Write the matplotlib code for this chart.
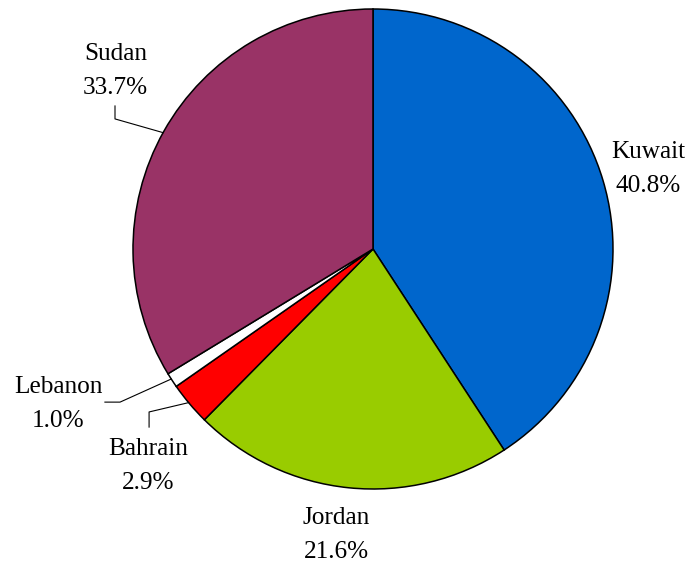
import matplotlib
matplotlib.use('Agg')
import matplotlib.pyplot as plt
import numpy as np

# data, clockwise from 12 o'clock
countries = ['Kuwait', 'Jordan', 'Bahrain', 'Lebanon', 'Sudan']
shares = [40.8, 21.6, 2.9, 1.0, 33.7]
colors = ['#0066CC', '#99CC00', '#FF0000', '#FFFFFF', '#993366']

# label anchor: centre x, last-line baseline y (pie radius = 1)
label_pos = [(1.146, 0.239), (-0.154, -1.2875), (-0.936, -1.0),
             (-1.3125, -0.742), (-1.073, 0.646)]
# leader lines: angle on rim, knee, end  (None = no leader)
leaders = [None, None,
           (-140.2, (-0.933, -0.679), (-0.933, -0.742)),
           (-147.2, (-1.054, -0.638), (-1.117, -0.638)),
           (151.0, (-1.075, 0.542), (-1.075, 0.596))]

plt.rcParams['font.family'] = ['Liberation Serif', 'DejaVu Serif']

fig = plt.figure(figsize=(6.89, 5.62), dpi=100)
ax = fig.add_axes([0, 0, 1, 1])

wedges, _ = ax.pie(shares, colors=colors, startangle=90, counterclock=False,
                   radius=1.0, wedgeprops=dict(edgecolor='black', linewidth=1.1))

for name, val, (x, y) in zip(countries, shares, label_pos):
    ax.text(x, y, '%s\n%.1f%%' % (name, val), ha='center', va='baseline',
            multialignment='center', fontsize=18.2, linespacing=1.7)

for ld in leaders:
    if ld is None:
        continue
    a, knee, end = ld
    sx, sy = np.cos(np.radians(a)), np.sin(np.radians(a))
    ax.plot([sx, knee[0], end[0]], [sy, knee[1], end[1]], color='black', lw=0.8)

ax.set_xlim(-373 / 240, (689 - 373) / 240)
ax.set_ylim(-313 / 240, 249 / 240)
ax.set_aspect('equal')
ax.axis('off')

fig.savefig('out.png', dpi=100)
